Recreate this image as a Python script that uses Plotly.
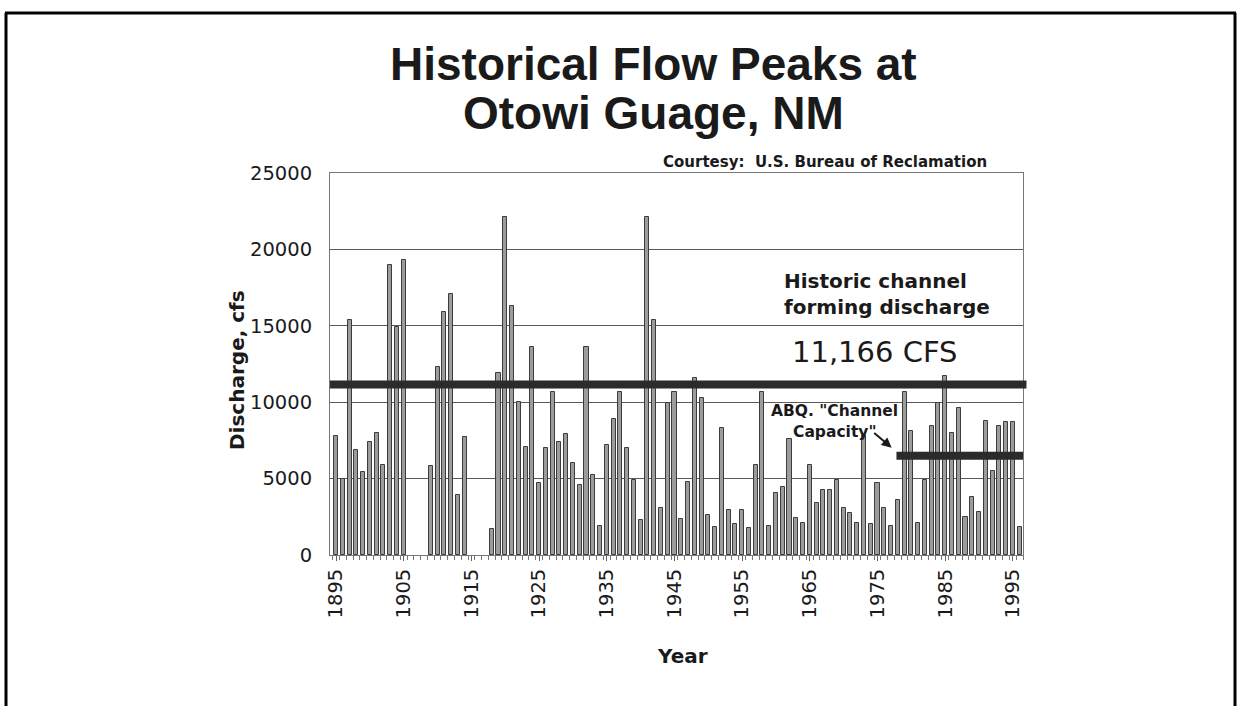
import plotly.graph_objects as go

# Annual peak discharge (cfs); 1906-08 and 1915-17 have no bar
YEARS = (
    list(range(1895, 1906))
    + list(range(1909, 1915))
    + list(range(1918, 1997))
)
PEAKS = [
    7800, 5000, 15400, 6900, 5400, 7400, 8000, 5900, 19000, 14900, 19300,
    5800, 12300, 15900, 17100, 3900, 7700,
    1700, 11900, 22100, 16300, 10000, 7100, 13600, 4700, 7000, 10700,
    7400, 7900, 6000, 4600, 13600, 5250, 1900, 7200, 8900, 10700,
    7000, 4900, 2300, 22100, 15400, 3060, 9950, 10700, 2340, 4810,
    11600, 10300, 2620, 1860, 8310, 2950, 2030, 2950, 1750, 5900,
    10700, 1900, 4090, 4480, 7590, 2400, 2120, 5900, 3390, 4260,
    4260, 4920, 3060, 2740, 2120, 7760, 2030, 4700, 3060, 1900,
    3610, 10700, 8090, 2120, 4920, 8420, 9950, 11740, 7980, 9620,
    2510, 3820, 2840, 8750, 5470, 8420, 8680, 8680, 1860,
]
TICK_YEARS = list(range(1895, 1996, 10))
Y_TICKS = [0, 5000, 10000, 15000, 20000, 25000]

CHANNEL_FORMING = 11166
ABQ_CAPACITY = 6500
ABQ_START = 1977.8

TITLE_FONT = "Liberation Sans, Arial, sans-serif"
FONT = "DejaVu Sans, Verdana, sans-serif"
COLOR_TEXT = "#1a1a1a"
COLOR_GRID = "#5a5a5a"
COLOR_BAR = "#9c9c9c"
COLOR_BAR_EDGE = "#3c3c3c"
COLOR_BAND = "#2b2b2b"

# plot area in page pixels
L, R, T, B = 330, 1023, 173, 555


def px(x):
    return (x - L) / (R - L)


def py(y):
    return (B - y) / (B - T)


fig = go.Figure(
    go.Bar(
        x=YEARS,
        y=PEAKS,
        width=0.6,
        marker=dict(color=COLOR_BAR, line=dict(color=COLOR_BAR_EDGE, width=1)),
        showlegend=False,
    )
)

# reference discharge bands
fig.add_shape(
    type="line", xref="paper", yref="y", x0=0, x1=1.005,
    y0=CHANNEL_FORMING, y1=CHANNEL_FORMING,
    line=dict(color=COLOR_BAND, width=8), layer="above",
)
fig.add_shape(
    type="line", xref="x", yref="y", x0=ABQ_START, x1=1996.6,
    y0=ABQ_CAPACITY, y1=ABQ_CAPACITY,
    line=dict(color=COLOR_BAND, width=8), layer="above",
)

# outer page frame
for x0, y0, x1, y1 in [
    (px(5), py(13), px(1236), py(13)),
    (px(6), py(13), px(6), py(720)),
    (px(1235), py(13), px(1235), py(720)),
]:
    fig.add_shape(
        type="line", xref="paper", yref="paper", x0=x0, y0=y0, x1=x1, y1=y1,
        line=dict(color="#000000", width=3),
    )


def note(text, x, y, size, bold=False, xanchor="center", family=FONT, **kw):
    fig.add_annotation(
        text=f"<b>{text}</b>" if bold else text,
        x=x, y=y, xref="paper", yref="paper",
        xanchor=xanchor, yanchor="middle",
        showarrow=False,
        font=dict(family=family, size=size, color=COLOR_TEXT),
        **kw,
    )


note("Historical Flow Peaks at", px(653), py(64), 46, bold=True, family=TITLE_FONT)
note("Otowi Guage, NM", px(653), py(113), 46, bold=True, family=TITLE_FONT)
note("Courtesy:  U.S. Bureau of Reclamation", px(661), py(162), 15, bold=True, xanchor="left")
note("Historic channel", px(782), py(281), 20, bold=True, xanchor="left")
note("forming discharge", px(782), py(307), 20, bold=True, xanchor="left")
note("11,166 CFS", px(875), py(352), 29)
note('ABQ. "Channel', px(834), py(411), 15.5, bold=True)
note('Capacity"', px(834), py(432), 15.5, bold=True)
note("Discharge, cfs", px(237), py(370), 20, bold=True, textangle=-90)
note("Year", px(682), py(656), 20, bold=True)

fig.add_annotation(
    x=1977.1, y=7020, xref="x", yref="y",
    ax=-19, ay=-16, text="", showarrow=True,
    arrowhead=2, arrowsize=1, arrowwidth=2, arrowcolor=COLOR_TEXT,
)

fig.update_layout(
    width=1241,
    height=706,
    margin=dict(l=L, r=1241 - R, t=T, b=706 - B),
    paper_bgcolor="#FFFFFF",
    plot_bgcolor="#FFFFFF",
    font=dict(family=FONT, color=COLOR_TEXT),
    bargap=0,
)
fig.update_xaxes(
    range=[1894.1, 1996.5],
    tickvals=TICK_YEARS,
    tickangle=-90,
    tickfont=dict(size=19.5, color=COLOR_TEXT),
    ticks="outside",
    ticklen=5,
    tickcolor="#666666",
    minor=dict(tick0=1894.5, dtick=1, ticks="outside", ticklen=4, tickcolor="#777777"),
    showgrid=False,
    zeroline=False,
    showline=True,
    linecolor="#777777",
    mirror=True,
)
fig.update_yaxes(
    range=[0, 25000],
    tickvals=Y_TICKS,
    tickformat="d",
    tickfont=dict(size=19.5, color=COLOR_TEXT),
    ticks="",
    ticklabelstandoff=13,
    showgrid=True,
    gridcolor=COLOR_GRID,
    gridwidth=1,
    zeroline=False,
    showline=True,
    linecolor="#777777",
    mirror=True,
)

# the page's default body margin would shift the chart by 8px
fig.write_html(
    "out.html",
    config={"displayModeBar": False},
    post_script="document.body.style.margin = '0';",
)
